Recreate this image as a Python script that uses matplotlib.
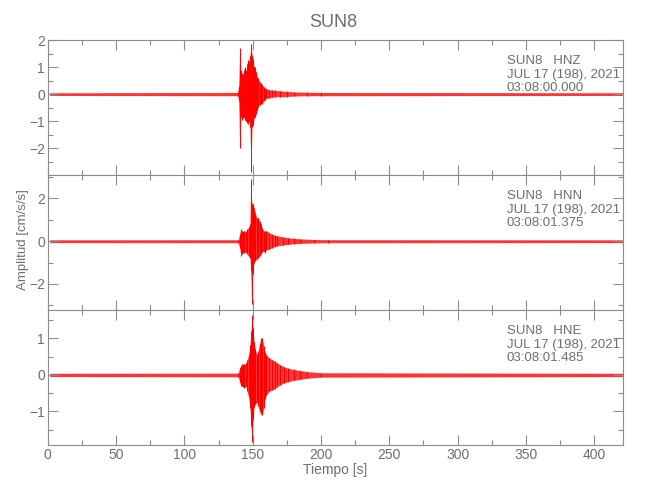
import matplotlib.pyplot as plt
from matplotlib.ticker import MultipleLocator

t_hnz = [1.5, 139.0, 139.8, 140.5, 141.3, 142.0, 142.8, 143.5, 144.3, 145.0, 145.8,
         146.5, 147.3, 148.0, 148.8, 149.5, 150.3, 151.0, 151.8, 152.5, 153.3, 154.0,
         155.0, 156.0, 157.0, 158.0, 159.0, 160.0, 162.0, 164.0, 166.0, 170.0, 175.0,
         180.0, 190.0, 200.0, 421.0]
up_hnz = [0.05, 0.06, 0.3, 1.69, 0.9, 0.77, 0.7, 0.9, 1.0, 0.85, 1.1,
          1.26, 1.2, 1.4, 1.85, 1.44, 1.3, 1.0, 1.0, 0.8, 0.64, 0.6,
          0.45, 0.4, 0.35, 0.28, 0.22, 0.2, 0.17, 0.15, 0.14, 0.12, 0.1,
          0.08, 0.07, 0.06, 0.05]
lo_hnz = [-0.05, -0.06, -0.25, -2.01, -0.8, -0.96, -0.9, -0.85, -0.96, -1.0, -1.05,
          -1.09, -1.0, -1.2, -2.88, -1.21, -1.15, -0.9, -0.84, -0.75, -0.6, -0.47,
          -0.4, -0.35, -0.35, -0.25, -0.2, -0.16, -0.14, -0.12, -0.1, -0.1, -0.09,
          -0.07, -0.06, -0.06, -0.05]

t_hnn = [1.5, 139.5, 140.5, 141.3, 142.0, 143.0, 144.0, 145.0, 146.0, 147.0, 148.0,
         148.6, 149.3, 150.0, 151.0, 152.0, 153.0, 154.0, 155.0, 156.0, 157.0, 158.0,
         159.0, 160.0, 162.0, 164.0, 166.0, 168.0, 172.0, 176.0, 180.0, 185.0, 195.0,
         205.0, 421.0]
up_hnn = [0.065, 0.07, 0.35, 0.56, 0.5, 0.45, 0.5, 0.45, 0.55, 0.65, 0.79,
          2.9, 1.8, 1.72, 1.57, 1.3, 1.1, 1.1, 0.95, 0.8, 0.6, 0.5,
          0.45, 0.5, 0.4, 0.33, 0.28, 0.25, 0.2, 0.16, 0.13, 0.11, 0.08,
          0.07, 0.065]
lo_hnn = [-0.065, -0.07, -0.3, -0.68, -0.6, -0.5, -0.55, -0.5, -0.6, -0.7, -0.77,
          -1.4, -2.95, -1.54, -1.0, -0.9, -0.85, -0.77, -0.7, -0.6, -0.5, -0.45,
          -0.55, -0.4, -0.38, -0.3, -0.25, -0.22, -0.18, -0.15, -0.12, -0.1, -0.08,
          -0.07, -0.065]

t_hne = [1.5, 139.5, 140.5, 141.3, 142.0, 143.0, 144.0, 145.0, 146.0, 147.0, 148.0,
         148.8, 149.5, 150.3, 151.0, 152.0, 153.0, 154.0, 155.0, 156.0, 157.0, 158.0,
         159.0, 160.0, 162.0, 164.0, 166.0, 168.0, 170.0, 173.0, 176.0, 180.0, 185.0,
         190.0, 200.0, 421.0]
up_hne = [0.045, 0.05, 0.2, 0.25, 0.3, 0.28, 0.3, 0.32, 0.4, 0.55, 0.81,
          1.2, 1.64, 1.3, 0.9, 0.7, 0.56, 0.65, 0.85, 1.01, 1.0, 0.8,
          0.64, 0.55, 0.47, 0.42, 0.38, 0.33, 0.28, 0.22, 0.18, 0.15, 0.12,
          0.09, 0.06, 0.045]
lo_hne = [-0.045, -0.05, -0.2, -0.29, -0.3, -0.32, -0.36, -0.3, -0.45, -0.6, -0.9,
          -1.4, -1.85, -1.2, -0.88, -0.8, -0.75, -0.85, -1.0, -1.06, -1.1, -0.9,
          -0.66, -0.55, -0.45, -0.42, -0.38, -0.32, -0.27, -0.22, -0.18, -0.15, -0.12,
          -0.09, -0.06, -0.045]

canales = ["HNZ", "HNN", "HNE"]
horas = ["03:08:00.000", "03:08:01.375", "03:08:01.485"]
ylims = [(-2.99, 2.0), (-3.22, 3.10), (-1.92, 1.78)]
y_major = [1, 2, 1]
y_minor = [0.5, 1, 0.5]

plt.rcParams["font.family"] = ["Liberation Sans", "DejaVu Sans"]
gris = "#6e6e6e"
eje = "#8c8c8c"

fig = plt.figure(figsize=(6.5, 5), dpi=100)
trazas = [(t_hnz, up_hnz, lo_hnz), (t_hnn, up_hnn, lo_hnn), (t_hne, up_hne, lo_hne)]
bottoms = [0.65, 0.38, 0.11]
axes = []
for i, (t, up, lo) in enumerate(trazas):
    ax = fig.add_axes([0.0734, bottoms[i], 0.885, 0.27])
    ax.fill_between(t, lo, up, color="#ff1f1f", lw=0, alpha=0.9)
    ax.vlines(t[1:-1], lo[1:-1], up[1:-1], color="red", lw=0.7)
    ax.set_xlim(0, 421)
    ax.set_ylim(*ylims[i])
    ax.xaxis.set_major_locator(MultipleLocator(50))
    ax.xaxis.set_minor_locator(MultipleLocator(25))
    ax.yaxis.set_major_locator(MultipleLocator(y_major[i]))
    ax.yaxis.set_minor_locator(MultipleLocator(y_minor[i]))
    ax.tick_params(which="both", direction="in", top=True, right=True,
                   colors=eje, labelcolor=gris, labelsize=10, width=0.8, pad=2)
    ax.tick_params(which="major", length=7.5)
    ax.tick_params(which="minor", length=3.8)
    for s in ax.spines.values():
        s.set_color(eje)
        s.set_linewidth(0.8)
    if i < 2:
        ax.tick_params(labelbottom=False)
    txt = "SUN8   " + canales[i] + "\nJUL 17 (198), 2021\n" + horas[i]
    ax.text(0.798, 0.89, txt, transform=ax.transAxes, ha="left", va="top",
            fontsize=9.5, color=gris, linespacing=1.2)
    axes.append(ax)

fig.suptitle("SUN8", x=0.512, y=0.972, fontsize=13, color=gris)
axes[2].set_xlabel("Tiempo [s]", color=gris, fontsize=10, labelpad=1)
fig.text(0.036, 0.52, "Amplitud [cm/s/s]", rotation=90, ha="center", va="center",
         fontsize=9.5, color=gris)

plt.savefig("out.png", dpi=100)
plt.close()
